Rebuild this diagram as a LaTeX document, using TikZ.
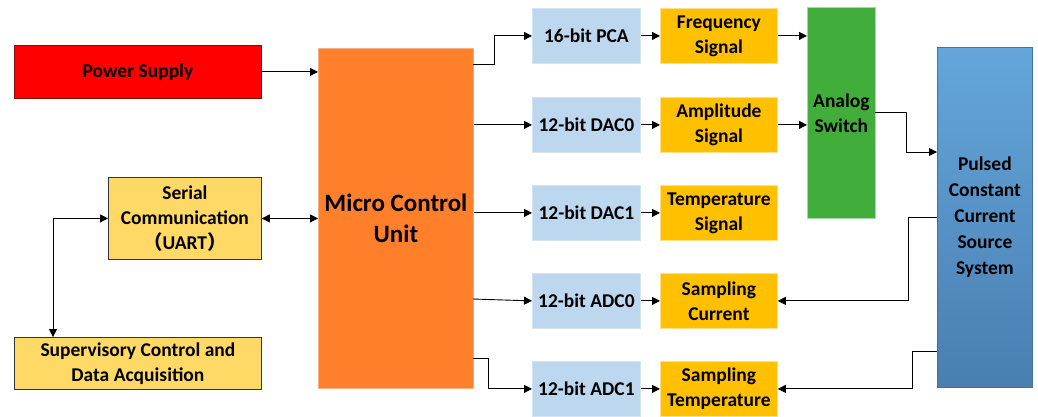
\documentclass[tikz,border=0pt]{standalone}
\usepackage{fontspec}
\setmainfont{Carlito}
\newfontfamily\cjk{Noto Sans CJK SC}
\usetikzlibrary{arrows.meta}
\definecolor{psred}{HTML}{FF0000}
\definecolor{psborder}{HTML}{7F1010}
\definecolor{serfill}{HTML}{FFD966}
\definecolor{mcufill}{HTML}{FF7F2A}
\definecolor{mcuborder}{HTML}{F4B183}
\definecolor{bluefill}{HTML}{BDD7EE}
\definecolor{blueborder}{HTML}{D6E4F2}
\definecolor{yelfill}{HTML}{FFC000}
\definecolor{yelborder}{HTML}{FFE08A}
\definecolor{swfill}{HTML}{41AD3A}
\definecolor{swborder}{HTML}{A9D8A5}
\definecolor{pctop}{HTML}{64A6DB}
\definecolor{pcbot}{HTML}{4A7EB1}
\definecolor{pcborder}{HTML}{41719C}
\tikzset{
  base/.style={align=center, inner sep=0pt, anchor=north west,
    font=\bfseries\fontsize{19.5}{25}\selectfont, line width=0.8pt},
  redbox/.style={base, fill=psred, draw=psborder},
  lightbox/.style={base, fill=serfill, draw=black!80},
  bluebox/.style={base, fill=bluefill, draw=blueborder, minimum width=108pt, minimum height=55pt},
  yelbox/.style={base, fill=yelfill, draw=yelborder, minimum width=117pt, minimum height=55pt},
  arr/.style={line width=0.9pt, -{Triangle[length=8pt,width=8pt]}},
  darr/.style={line width=0.9pt, {Triangle[length=8pt,width=8pt]}-{Triangle[length=8pt,width=8pt]}}
}
\begin{document}
\begin{tikzpicture}[x=1pt,y=-1pt]
\useasboundingbox (0,0) rectangle (1038,416);
% left column
\node[redbox, minimum width=247pt, minimum height=53pt] (ps) at (14,45) {Power Supply};
\node[lightbox, minimum width=153pt, minimum height=82pt] (ser) at (108,177) {Serial\\Communication\\{\cjk （}UART{\cjk ）}};
\node[lightbox, minimum width=247pt, minimum height=52pt] (sup) at (14,337) {Supervisory Control and\\Data Acquisition};
% MCU
\node[base, fill=mcufill, draw=mcuborder, minimum width=155pt, minimum height=340pt,
  font=\bfseries\fontsize{25}{31}\selectfont] (mcu) at (318,48) {Micro Control\\Unit};
% blue column
\node[bluebox] (pca) at (532,8) {16-bit PCA};
\node[bluebox] (dac0) at (532,97) {12-bit DAC0};
\node[bluebox] (dac1) at (532,185) {12-bit DAC1};
\node[bluebox] (adc0) at (532,273) {12-bit ADC0};
\node[bluebox] (adc1) at (532,361) {12-bit ADC1};
% yellow column
\node[yelbox] (freq) at (660,8) {Frequency\\Signal};
\node[yelbox] (amp) at (660,97) {Amplitude\\Signal};
\node[yelbox] (temp) at (660,185) {Temperature\\Signal};
\node[yelbox] (cur) at (660,273) {Sampling\\Current};
\node[yelbox] (stemp) at (660,361) {Sampling\\Temperature};
% switch and source
\node[base, fill=swfill, draw=swborder, minimum width=68pt, minimum height=211pt] (sw) at (807,7) {Analog\\Switch};
\node[base, top color=pctop, bottom color=pcbot, draw=pcborder, minimum width=95pt, minimum height=340pt,
  font=\bfseries\fontsize{19.5}{26}\selectfont] (pcs) at (937,47) {Pulsed\\Constant\\Current\\Source\\System};
% helper coordinates
\coordinate (sx) at (53,0);
\coordinate (m1) at (473,64);
\coordinate (m1b) at (494,64);
\coordinate (m5) at (473,358);
\coordinate (m5b) at (488,358);
\coordinate (m4) at (473,299);
\coordinate (s1) at (875,112);
\coordinate (s1b) at (906,112);
\coordinate (p1) at (937,152);
\coordinate (p2) at (937,217);
\coordinate (p2b) at (908,217);
\coordinate (p3) at (937,351);
\coordinate (p3b) at (912,351);
% connectors
\draw[arr] (ps.east) -- (ps.east -| mcu.west);
\draw[darr] (ser.east) -- (ser.east -| mcu.west);
\draw[darr] (ser.west) -| (sup.north -| sx);
\draw[arr] (m1) -- (m1b) |- (pca.west);
\draw[arr] (mcu.east |- dac0.west) -- (dac0.west);
\draw[arr] (mcu.east |- dac1.west) -- (dac1.west);
\draw[arr] (m4) -- (adc0.west);
\draw[arr] (m5) -- (m5b) |- (adc1.west);
\draw[arr] (pca.east) -- (freq.west);
\draw[arr] (dac0.east) -- (amp.west);
\draw[arr] (dac1.east) -- (temp.west);
\draw[arr] (adc0.east) -- (cur.west);
\draw[arr] (adc1.east) -- (stemp.west);
\draw[arr] (freq.east) -- (freq.east -| sw.west);
\draw[arr] (amp.east) -- (amp.east -| sw.west);
\draw[arr] (s1) -- (s1b) |- (p1);
\draw[arr] (p2) -- (p2b) |- (cur.east);
\draw[arr] (p3) -- (p3b) |- (stemp.east);
\end{tikzpicture}
\end{document}
